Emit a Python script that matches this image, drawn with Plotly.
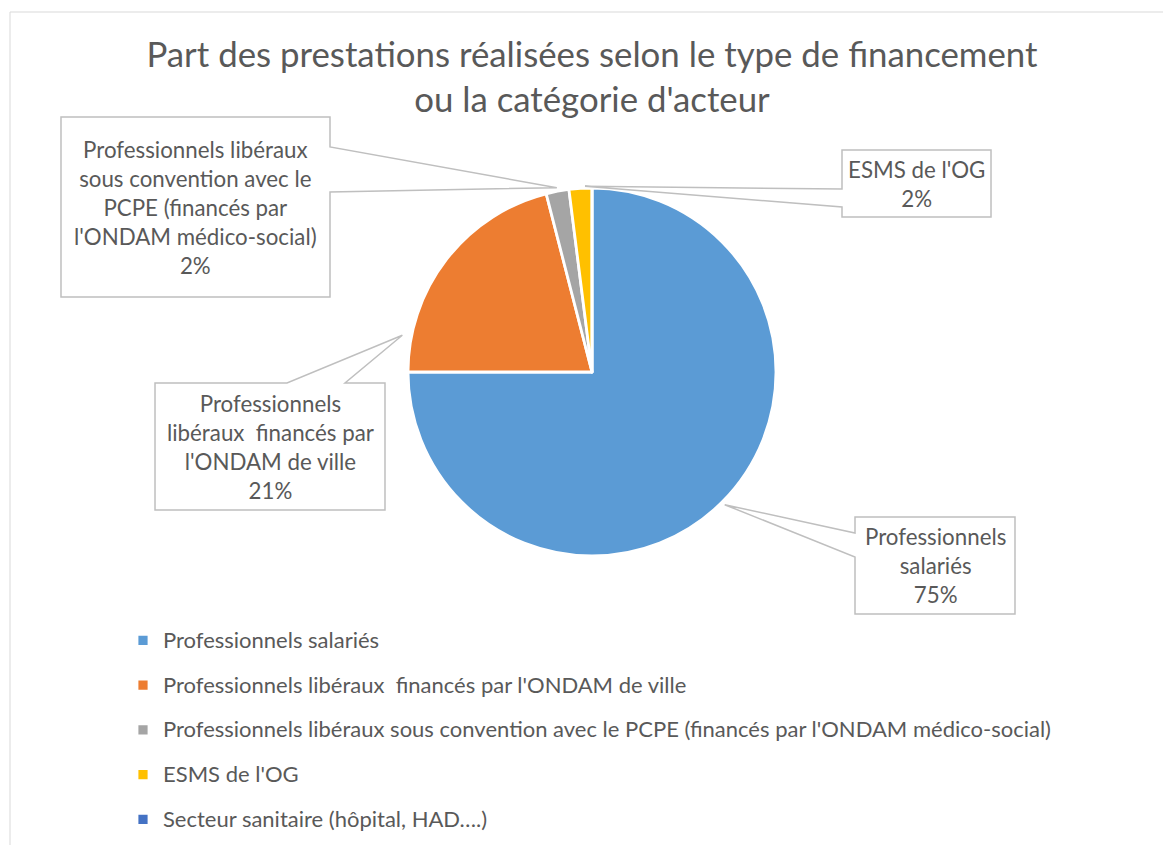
import math
import plotly.graph_objects as go

# ---------------- data ----------------
labels = [
    "Professionnels salariés",
    "Professionnels libéraux\u00a0 financés par l'ONDAM de ville",
    "Professionnels libéraux sous convention avec le PCPE (financés par l'ONDAM médico-social)",
    "ESMS de l'OG",
    "Secteur sanitaire (hôpital, HAD….)",
]
values = [75, 21, 2, 2, 0]
colors = ["#5B9BD5", "#ED7D31", "#A5A5A5", "#FFC000", "#4472C4"]
box_names = [
    "Professionnels<br>salariés",
    "Professionnels<br>libéraux\u00a0 financés par<br>l'ONDAM de ville",
    "Professionnels libéraux<br>sous convention avec le<br>PCPE (financés par<br>l'ONDAM médico-social)",
    "ESMS de l'OG",
]
title_lines = ["Part des prestations réalisées selon le type de financement",
               "ou la catégorie d'acteur"]

# ---------------- layout constants (pixels) ----------------
W, H = 1163, 845
CX, CY, R = 592, 372, 184
FONT = "Lato"
TXT = "#595959"
LINE = "#BFBFBF"

def px(x):
    return x / W

def py(y):
    return 1 - y / H

# callout boxes: (x0, y0, x1, y1), side of wedge, wedge base positions, position in slice, radius factor
callouts = [
    dict(idx=0, box=(855, 517, 1015, 614), side="left", base=(533, 557), frac=0.5, rf=1.02),
    dict(idx=1, box=(155, 383, 385, 510), side="top", base=(287, 345), frac=0.145, rf=1.05),
    dict(idx=2, box=(61, 117, 330, 297), side="right", base=(147, 192), frac=0.5, rf=1.02),
    dict(idx=3, box=(842, 150, 991, 217), side="left", base=(189, 207), frac=0.7, rf=1.01),
]

total = sum(values)
starts = []
acc = 0
for v in values:
    starts.append(acc)
    acc += v

fig = go.Figure()
legend_labels = [f'<span style="font-size:22px;baseline-shift:5px">{l}</span>' for l in labels]
fig.add_trace(go.Pie(
    labels=legend_labels,
    values=values,
    sort=False,
    direction="clockwise",
    rotation=0,
    marker=dict(colors=colors, line=dict(color="white", width=2.8)),
    textinfo="none",
    hoverinfo="label+percent",
    domain=dict(x=[px(CX - R), px(CX + R)], y=[py(CY + R), py(CY - R)]),
    showlegend=True,
))

shapes = [dict(type="rect", xref="paper", yref="paper", x0=px(10), y0=py(12), x1=1.2, y1=-0.2,
               line=dict(color="#D9D9D9", width=1), fillcolor="rgba(0,0,0,0)", layer="below")]
annotations = []
for c in callouts:
    i = c["idx"]
    ang = 2 * math.pi * (starts[i] + c["frac"] * values[i]) / total
    tx = CX + c["rf"] * R * math.sin(ang)
    ty = CY - c["rf"] * R * math.cos(ang)
    x0, y0, x1, y1 = c["box"]
    b0, b1 = c["base"]
    tip = (tx, ty)
    TL, TR, BR, BL = (x0, y0), (x1, y0), (x1, y1), (x0, y1)
    if c["side"] == "top":
        pts = [TL, (b0, y0), tip, (b1, y0), TR, BR, BL]
    elif c["side"] == "right":
        pts = [TL, TR, (x1, b0), tip, (x1, b1), BR, BL]
    elif c["side"] == "bottom":
        pts = [TL, TR, BR, (b1, y1), tip, (b0, y1), BL]
    else:
        pts = [TL, TR, BR, BL, (x0, b1), tip, (x0, b0)]
    path = "M " + " L ".join(f"{px(a):.5f},{py(b):.5f}" for a, b in pts) + " Z"
    shapes.append(dict(type="path", xref="paper", yref="paper", path=path,
                       fillcolor="white", line=dict(color=LINE, width=1.5), layer="above"))
    pct = f"{round(100 * values[i] / total)}%"
    annotations.append(dict(
        x=px((x0 + x1) / 2), y=py((y0 + y1) / 2), xref="paper", yref="paper",
        xanchor="center", yanchor="middle", showarrow=False, align="center",
        text=f"{box_names[i]}<br>{pct}",
        font=dict(family=FONT, size=22.3, color=TXT),
    ))

title_text = "<br>".join(f'<span style="font-size:34.8px">{t}</span>' for t in title_lines)

fig.update_layout(
    width=W, height=H,
    margin=dict(l=0, r=0, t=0, b=0, autoexpand=False),
    paper_bgcolor="white",
    plot_bgcolor="white",
    font=dict(family=FONT, color=TXT),
    title=dict(text=title_text, x=px(592), xanchor="center", y=py(67), yanchor="middle",
               yref="container", font=dict(family=FONT, size=34.6, color=TXT)),
    legend=dict(x=px(123), xanchor="left", y=py(613), yanchor="top",
                font=dict(family=FONT, size=32.1, color=TXT), bgcolor="rgba(0,0,0,0)",
                traceorder="normal"),
    shapes=shapes,
    annotations=annotations,
)

fig.write_html("out.html", config={"displayModeBar": False},
               post_script="document.body.style.margin='0';document.body.style.padding='0';")
